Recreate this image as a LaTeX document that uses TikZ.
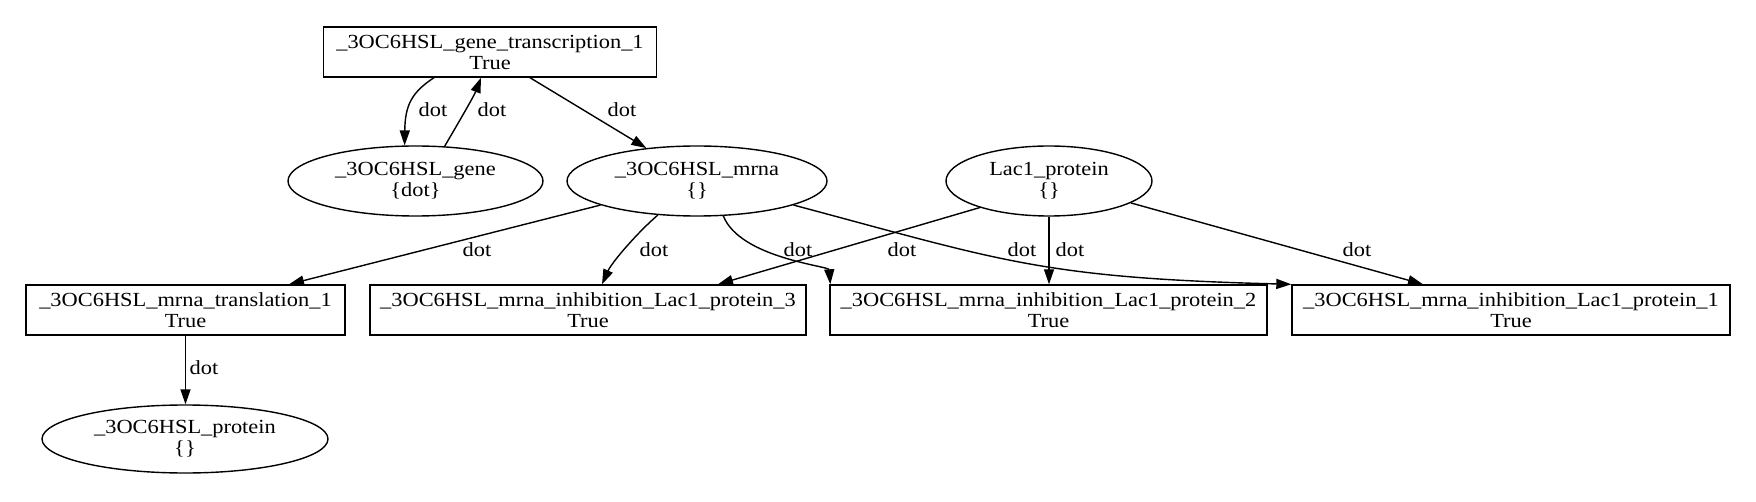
\documentclass[tikz,border=0pt]{standalone}
\usepackage{fontspec}
\setmainfont{Liberation Serif}[FakeStretch=1.12]
\usetikzlibrary{arrows.meta,shapes.geometric,calc}
\newcommand\gvfont{\fontsize{10pt}{10.5pt}\selectfont}
\tikzset{
  gv/.style={font=\gvfont, align=center},
  boxnode/.style={gv, draw, rectangle, minimum height=25pt, inner sep=0pt, line width=0.7pt},
  ellnode/.style={gv, draw, ellipse, inner sep=0pt, line width=0.7pt},
  edge/.style={-{Triangle[length=7.5pt,width=5pt]}, line width=0.7pt},
  lbl/.style={gv, inner sep=0pt}
}
\begin{document}
\begin{tikzpicture}[x=0.5pt,y=-0.5pt]
\useasboundingbox (0,0) rectangle (1756,502);
% nodes
\node[boxnode, minimum width=166.5pt] (trans) at (490,52) {\_3OC6HSL\_gene\_transcription\_1\\True};
\node[ellnode, minimum width=127.5pt, minimum height=35pt] (gene) at (415.5,181) {\_3OC6HSL\_gene\\\{dot\}};
\node[ellnode, minimum width=130pt, minimum height=35pt] (mrna) at (697,181) {\_3OC6HSL\_mrna\\\{\}};
\node[ellnode, minimum width=103pt, minimum height=35pt] (lac) at (1049,181) {Lac1\_protein\\\{\}};
\node[boxnode, minimum width=159.5pt] (transl) at (185.5,310) {\_3OC6HSL\_mrna\_translation\_1\\True};
\node[boxnode, minimum width=218pt] (inh3) at (588,310) {\_3OC6HSL\_mrna\_inhibition\_Lac1\_protein\_3\\True};
\node[boxnode, minimum width=218.5pt] (inh2) at (1048.5,310) {\_3OC6HSL\_mrna\_inhibition\_Lac1\_protein\_2\\True};
\node[boxnode, minimum width=219pt] (inh1) at (1511,310) {\_3OC6HSL\_mrna\_inhibition\_Lac1\_protein\_1\\True};
\node[ellnode, minimum width=143pt, minimum height=34pt] (prot) at (185,439) {\_3OC6HSL\_protein\\\{\}};
% edges
\draw[edge] ($(trans.south)+(-56,0)$) .. controls (412,92) and (405,105) .. (gene.107);
\draw[edge] (gene.50) .. controls (460,120) and (474,96) .. ($(trans.south)+(-9,0)$);
\draw[edge] ($(trans.south)+(40,0)$) -- (mrna.147);
\draw[edge] (mrna.194) -- ($(transl.north)+(103.5,0)$);
\draw[edge] (mrna.221) .. controls (638,232) and (612,262) .. ($(inh3.north)+(14,0)$);
\draw[edge] (mrna.-53) .. controls (740,258) and (829,266) .. ($(inh2.north west)+(1,0)$);
\draw[edge] (mrna.-14) .. controls (1000,260) and (1040,278) .. (inh1.north west);
\draw[edge] (lac.201) -- ($(inh3.north)+(130,0)$);
\draw[edge] (lac.south) -- (lac.south |- inh2.north);
\draw[edge] (lac.-15) -- ($(inh1.north)+(-88,0)$);
\draw[edge] (transl.south) -- (transl.south |- prot.north);
% labels
\node[lbl] (l1) at (433,110) {dot};
\node[lbl] (l2) at (492,110) {dot};
\node[lbl] (l3) at (622,110) {dot};
\node[lbl] (l4) at (477,250) {dot};
\node[lbl] (l5) at (654,250) {dot};
\node[lbl] (l6) at (798,250) {dot};
\node[lbl] (l7) at (902,250) {dot};
\node[lbl] (l8) at (1022,250) {dot};
\node[lbl] (l9) at (1070,250) {dot};
\node[lbl] (l10) at (1357,250) {dot};
\node[lbl] (l11) at (204,368) {dot};
\end{tikzpicture}
\end{document}
